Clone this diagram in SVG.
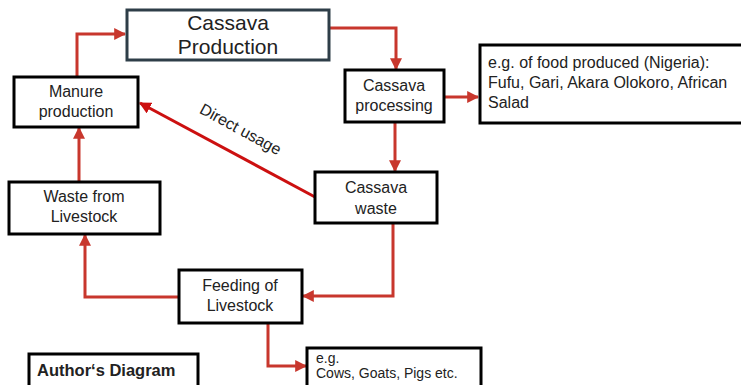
<svg xmlns="http://www.w3.org/2000/svg" width="741" height="385" viewBox="0 0 741 385">
<defs>
<style>
.box{fill:#fff;stroke:#000;stroke-width:3}
.t{font-family:"Liberation Sans",Arial,sans-serif;font-size:16px;fill:#222;text-anchor:middle}
.tl{font-family:"Liberation Sans",Arial,sans-serif;font-size:16px;fill:#222}
.c{fill:none;stroke:#c8372d;stroke-width:3}
</style>
<marker id="ah" viewBox="0 0 10 10" refX="9" refY="5" markerWidth="4" markerHeight="4" orient="auto" markerUnits="strokeWidth">
<path d="M0,0 L10,5 L0,10 z" fill="#c8372d"/>
</marker>
<marker id="ahr" viewBox="0 0 10 10" refX="9" refY="5" markerWidth="4" markerHeight="4" orient="auto" markerUnits="strokeWidth">
<path d="M0,0 L10,5 L0,10 z" fill="#cc1010"/>
</marker>
</defs>
<rect width="741" height="385" fill="#fff"/>
<g id="connectors">
<path class="c" d="M77,77 V34 H125" marker-end="url(#ah)"/>
<path class="c" d="M330,28 H396 V69" marker-end="url(#ah)"/>
<path class="c" d="M444,97 H478" marker-end="url(#ah)"/>
<path class="c" d="M395,122 V171" marker-end="url(#ah)"/>
<path class="c" d="M393,223 V296 H303" marker-end="url(#ah)"/>
<path class="c" d="M178,297 H85 V235" marker-end="url(#ah)"/>
<path class="c" d="M79,182 V128" marker-end="url(#ah)"/>
<path class="c" d="M268,323 V366 H306" marker-end="url(#ah)"/>
<path d="M315,197 L140,103" fill="none" stroke="#cc1010" stroke-width="3" marker-end="url(#ahr)"/>
<text class="t" transform="translate(238,134) rotate(28.5)">Direct usage</text>
</g>
<g id="cassava-production">
<rect x="127" y="10" width="202" height="50" fill="#fff" stroke="#2e3e48" stroke-width="3"/>
<text class="t" style="font-size:21px" x="228" y="30">Cassava</text>
<text class="t" style="font-size:21px" x="228" y="54">Production</text>
</g>
<g id="manure-production">
<rect class="box" x="14" y="77" width="124" height="50"/>
<text class="t" x="76" y="97">Manure</text>
<text class="t" x="76" y="117">production</text>
</g>
<g id="cassava-processing">
<rect class="box" x="345" y="70" width="99" height="52"/>
<text class="t" x="394" y="91">Cassava</text>
<text class="t" x="394" y="111">processing</text>
</g>
<g id="food-examples">
<rect class="box" x="480" y="45" width="270" height="78"/>
<text class="tl" x="488" y="68">e.g. of food produced (Nigeria):</text>
<text class="tl" x="488" y="88">Fufu, Gari, Akara Olokoro, African</text>
<text class="tl" x="488" y="108">Salad</text>
</g>
<g id="cassava-waste">
<rect class="box" x="315" y="172" width="122" height="51"/>
<text class="t" x="376" y="193">Cassava</text>
<text class="t" x="376" y="214">waste</text>
</g>
<g id="waste-from-livestock">
<rect class="box" x="9" y="182" width="151" height="52"/>
<text class="t" x="84" y="202">Waste from</text>
<text class="t" x="84" y="222">Livestock</text>
</g>
<g id="feeding-of-livestock">
<rect class="box" x="179" y="270" width="123" height="53"/>
<text class="t" x="240" y="291">Feeding of</text>
<text class="t" x="240" y="311">Livestock</text>
</g>
<g id="livestock-examples">
<rect class="box" x="307" y="348" width="174" height="45"/>
<text class="tl" style="font-size:14px" x="316" y="363">e.g.</text>
<text class="tl" style="font-size:14px" x="316" y="378">Cows, Goats, Pigs etc.</text>
</g>
<g id="authors-diagram">
<rect class="box" x="29" y="354" width="169" height="40"/>
<text class="tl" style="font-weight:bold;font-size:16.5px" x="37" y="376">Author‘s Diagram</text>
</g>
</svg>
